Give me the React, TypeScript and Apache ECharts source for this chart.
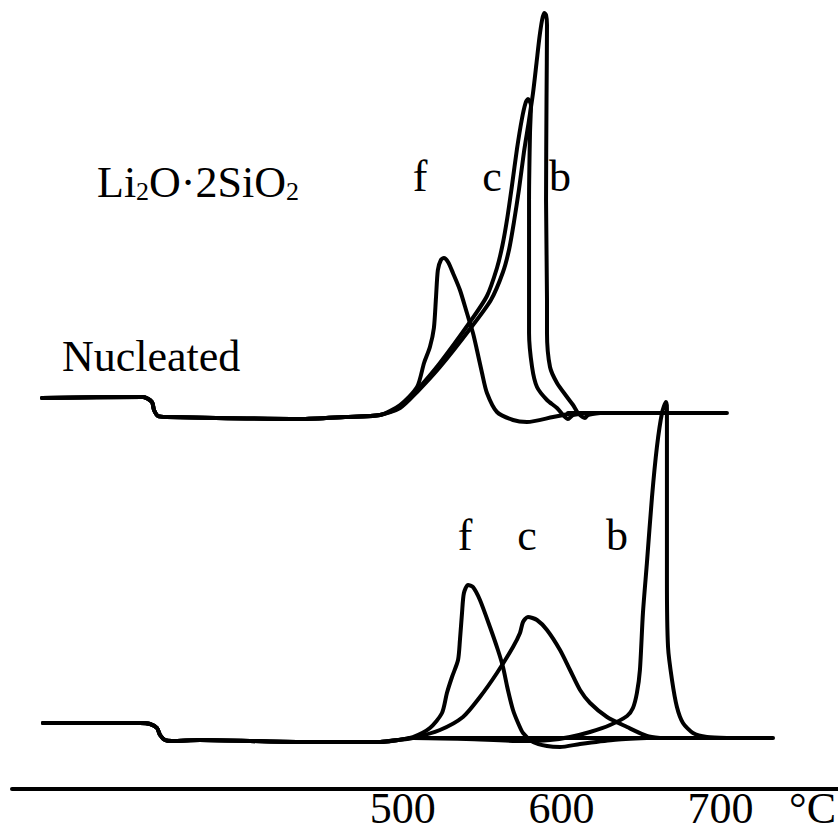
import React, { useEffect, useRef } from "react";
import * as echarts from "echarts";

const FONT = "Liberation Serif";

// x axis (temperature, °C)
const xMin = 254;
const xMax = 774;
const xTickValues = [500, 600, 700];
const xUnit = "°C";
const xUnitAt = 758;

// y axis: ΔT, arbitrary units
const yMin = 0;
const yMax = 789;
const nucleatedOffset = 376;
const glassOffset = 51;

// Nucleated sample (upper traces), [T °C, ΔT relative to own baseline]
const nucleatedLead: [number, number][] = [
  [272.9, 15], [336.5, 16], [342.1, 11], [343.4, 3], [345.9, -3], [351.6, -4],
  [435.3, -6], [463.6, -4], [485.7, -2],
];
const nucleatedF: [number, number][] = [
  [498.3, 8], [509.0, 26], [513.4, 50], [517.1, 66], [519.6, 85], [520.9, 115],
  [522.1, 143], [524.0, 153], [525.9, 155], [528.5, 151], [531.6, 140], [536.0, 123],
  [540.4, 100], [544.2, 80], [546.7, 63], [549.9, 40], [553.0, 20], [559.3, 1],
  [569.4, -7], [578.2, -9], [594.6, -4], [607.2, 0],
];
const nucleatedC: [number, number][] = [
  [498.3, 6], [509.0, 23], [523.4, 50], [542.3, 91], [553.0, 117], [559.3, 145],
  [562.8, 168], [565.8, 195], [568.8, 228], [571.9, 264], [575.0, 294], [577.3, 310],
  [578.8, 314], [580.7, 308], [580.1, 280], [579.5, 213], [579.5, 146], [579.5, 80],
  [581.4, 46], [584.5, 26], [590.8, 13], [597.1, 5], [600.9, -2], [604.0, -6],
  [607.2, -2], [617.9, 0],
];
const nucleatedB: [number, number][] = [
  [498.3, 5], [509.0, 21], [523.4, 46], [542.3, 84], [555.5, 113], [563.1, 141],
  [567.0, 164], [570.0, 191], [573.2, 224], [576.3, 261], [579.4, 292], [582.0, 320],
  [584.2, 350], [586.0, 375], [587.7, 393], [589.0, 400], [590.2, 398], [590.8, 388],
  [590.5, 313], [590.2, 213], [590.8, 113], [590.8, 80], [592.7, 46], [597.1, 30],
  [603.4, 16], [607.2, 8], [610.3, 0], [614.7, -5], [616.6, -2], [624.2, 0],
];
const nucleatedBaseline: [number, number][] = [[604.0, 0], [704.1, 0]];

// Glass, not nucleated (lower traces)
const glassLead: [number, number][] = [
  [273.5, 15], [334.6, 15], [340.9, 14], [345.3, 10], [347.2, 3], [350.3, -2],
  [354.7, -3], [372.3, -2], [435.3, -4], [485.7, -4], [497.0, -2],
];
const glassF: [number, number][] = [
  [506.4, 1], [517.1, 10], [524.7, 25], [527.8, 45], [531.0, 61], [534.8, 78],
  [536.0, 98], [537.3, 125], [538.5, 145], [541.1, 153], [544.2, 151], [548.6, 138],
  [554.9, 111], [559.9, 88], [563.1, 71], [566.2, 48], [569.4, 28], [572.6, 15],
  [575.7, 5], [582.0, -4], [590.8, -8], [599.0, -9], [611.6, -6], [632.3, -2],
  [653.7, 0],
];
const glassC: [number, number][] = [
  [506.4, 0], [523.4, 8], [537.9, 21], [548.6, 41], [559.3, 65], [569.4, 91],
  [573.8, 105], [575.7, 116], [578.8, 121], [584.5, 118], [590.8, 108], [599.0, 88],
  [605.3, 68], [611.6, 48], [617.9, 35], [628.6, 21], [641.2, 11], [653.7, 2],
  [661.9, 0],
];
const glassB: [number, number][] = [
  [506.4, 0], [540.0, -1], [575.7, -3], [592.7, -2], [605.3, 1], [617.9, 6],
  [630.5, 13], [641.2, 22], [644.9, 30], [647.4, 45], [649.3, 68], [651.2, 125],
  [653.7, 175], [656.9, 241], [660.0, 291], [663.2, 325], [665.7, 336], [666.3, 330],
  [666.3, 158], [667.0, 91], [669.5, 58], [672.6, 31], [676.4, 15], [682.7, 5],
  [691.5, 1], [704.1, 0],
];
const glassBaseline: [number, number][] = [[504.5, 0], [733.1, 0]];

// annotation texts
const peakNames = ["f", "c", "b"];
const nucleatedTitle = "Nucleated";

export default function App() {
  const ref = useRef<HTMLDivElement>(null);

  useEffect(() => {
    if (!ref.current) return;
    const chart = echarts.init(ref.current, undefined, { renderer: "svg" });

    const mk = (name: string, pts: [number, number][], offset: number) => ({
      name,
      type: "line",
      data: pts.map(([t, v]) => [t, v + offset]),
      showSymbol: false,
      symbol: "none",
      smooth: 0.25,
      clip: false,
      silent: true,
      lineStyle: { color: "#000", width: 4, cap: "round", join: "round" },
    });

    const series = [
      mk("Nucleated f", [...nucleatedLead, ...nucleatedF], nucleatedOffset),
      mk("Nucleated c", [...nucleatedLead, ...nucleatedC], nucleatedOffset),
      mk("Nucleated b", [...nucleatedLead, ...nucleatedB], nucleatedOffset),
      mk("Nucleated baseline", nucleatedBaseline, nucleatedOffset),
      mk("Glass f", [...glassLead, ...glassF], glassOffset),
      mk("Glass c", [...glassLead, ...glassC], glassOffset),
      mk("Glass b", [...glassLead, ...glassB], glassOffset),
      mk("Glass baseline", glassBaseline, glassOffset),
    ];

    const FS = 44;
    const mid = (baseline: number) => baseline - 0.3375 * FS;
    const topLabelX = [420, 492, 560];
    const bottomLabelX = [465, 527, 617];

    const txt = (text: string, x: number, y: number, align = "center") => ({
      type: "text",
      x,
      y,
      silent: true,
      style: {
        text,
        fill: "#000",
        fontSize: FS,
        fontFamily: FONT,
        align,
        verticalAlign: "middle",
      },
    });

    const graphic: any[] = [
      ...peakNames.map((n, i) => txt(n, topLabelX[i], mid(191))),
      ...peakNames.map((n, i) => txt(n, bottomLabelX[i], mid(550))),
      txt(nucleatedTitle, 62, mid(371), "left"),
      {
        type: "text",
        x: 97,
        y: 160,
        silent: true,
        style: {
          text: "{n|Li}{s|2}{n|O·2SiO}{s|2}",
          fill: "#000",
          fontFamily: FONT,
          align: "left",
          verticalAlign: "top",
          rich: {
            n: { fontSize: 44, lineHeight: 44, verticalAlign: "bottom", fontFamily: FONT, fill: "#000" },
            s: { fontSize: 26, lineHeight: 26, verticalAlign: "bottom", fontFamily: FONT, fill: "#000" },
          },
        },
      },
    ];

    chart.setOption({
      animation: false,
      backgroundColor: "#fff",
      grid: { left: 12, right: 0, top: 0, bottom: 45, containLabel: false, outerBoundsMode: "none" },
      xAxis: {
        type: "value",
        min: xMin,
        max: xMax,
        axisLine: { show: true, onZero: false, lineStyle: { color: "#000", width: 4 } },
        axisTick: { show: false },
        splitLine: { show: false },
        axisLabel: {
          customValues: [...xTickValues, xUnitAt],
          formatter: (v: number) => (v === xUnitAt ? xUnit : String(v)),
          fontSize: FS,
          fontFamily: FONT,
          lineHeight: 36,
          color: "#000",
          margin: 1,
          hideOverlap: false,
        },
      },
      yAxis: { type: "value", min: yMin, max: yMax, show: false },
      series,
      graphic,
    });

    return () => chart.dispose();
  }, []);

  return (
    <div
      ref={ref}
      style={{ position: "absolute", left: 0, top: 0, width: 838, height: 834, background: "#fff" }}
    />
  );
}
